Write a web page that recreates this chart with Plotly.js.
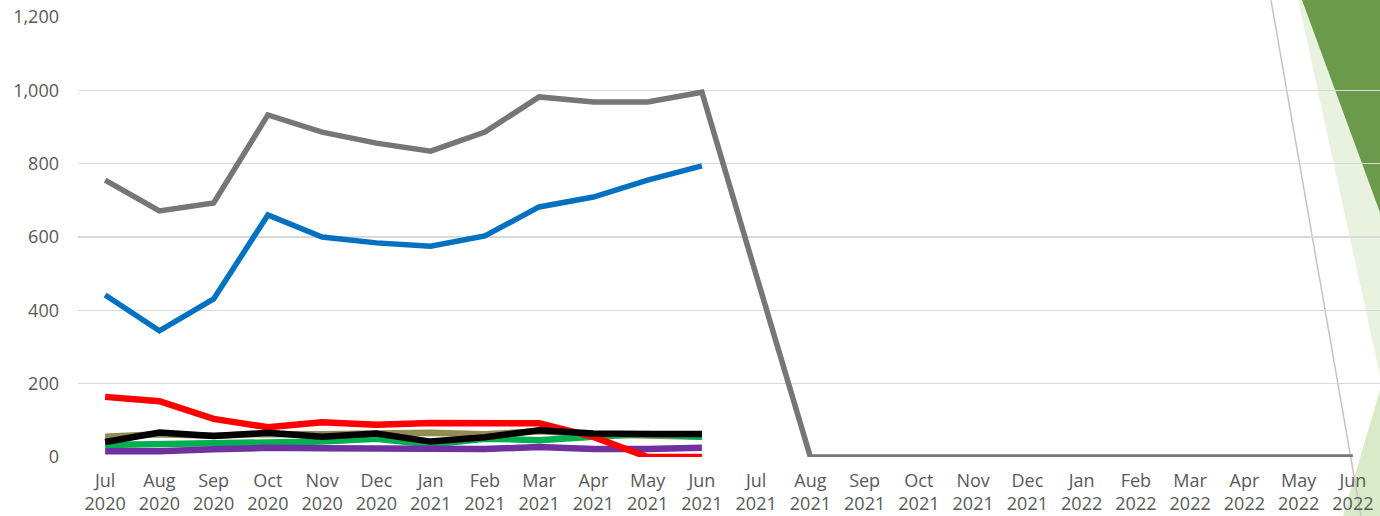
<!DOCTYPE html>
<html>
<head>
<meta charset="utf-8">
<script src="https://cdn.plot.ly/plotly-3.0.1.min.js"></script>
<style>
  html, body { margin: 0; padding: 0; background: #ffffff; }
  #chart { width: 1380px; height: 516px; }
</style>
</head>
<body>
<div id="chart"></div>
<script>
// month categories, Jul 2020 .. Jun 2022
const months = [
    'Jul<br>2020', 'Aug<br>2020', 'Sep<br>2020', 'Oct<br>2020', 'Nov<br>2020', 'Dec<br>2020',
    'Jan<br>2021', 'Feb<br>2021', 'Mar<br>2021', 'Apr<br>2021', 'May<br>2021', 'Jun<br>2021',
    'Jul<br>2021', 'Aug<br>2021', 'Sep<br>2021', 'Oct<br>2021', 'Nov<br>2021', 'Dec<br>2021',
    'Jan<br>2022', 'Feb<br>2022', 'Mar<br>2022', 'Apr<br>2022', 'May<br>2022', 'Jun<br>2022'
];

const _ = null;
const grayVals   = [755, 671, 693, 933, 886, 856, 834, 886, 982, 968, 968, 995, 497, 0, 0, 0, 0, 0, 0, 0, 0, 0, 0, 0];
const blueVals   = [442, 344, 431, 660, 600, 584, 575, 603, 682, 709, 755, 794, _, _, _, _, _, _, _, _, _, _, _, _];
const tanVals    = [55, 62, 58, 63, 62, 64, 66, 62, 70, 62, 60, 55, _, _, _, _, _, _, _, _, _, _, _, _];
const greenVals  = [33, 35, 37, 38, 42, 50, 34, 50, 46, 55, 63, 55, _, _, _, _, _, _, _, _, _, _, _, _];
const purpleVals = [16, 16, 21, 25, 24, 22, 23, 22, 27, 22, 22, 25, _, _, _, _, _, _, _, _, _, _, _, _];
const redVals    = [164, 152, 104, 81, 95, 88, 93, 92, 92, 55, 0, 0, _, _, _, _, _, _, _, _, _, _, _, _];
const blackVals  = [41, 67, 57, 66, 55, 64, 42, 54, 73, 64, 63, 63, _, _, _, _, _, _, _, _, _, _, _, _];

const yTicks = [0, 200, 400, 600, 800, 1000, 1200];

function line(y, color, width) {
    return {
        x: months,
        y: y,
        type: 'scatter',
        mode: 'lines',
        connectgaps: false,
        line: { color: color, width: width },
        hoverinfo: 'skip',
        showlegend: false
    };
}

const traces = [
    line(grayVals, '#767676', 5.5),
    line(blueVals, '#0070c0', 5.5),
    line(tanVals, '#948a54', 6.5),
    line(greenVals, '#00b050', 6.5),
    line(purpleVals, '#7030a0', 6.5),
    line(redVals, '#ff0000', 6.5),
    line(blackVals, '#000000', 6.5)
];

// plot area is 78..1380 px wide, 17..457 px tall; convert px -> paper
const px = v => (v - 78) / 1302;
const py = v => (457 - v) / 440;

// slide decoration at the right edge, behind the chart
const shapes = [
    { type: 'path', xref: 'paper', yref: 'paper', layer: 'below', line: { width: 0 }, fillcolor: '#e9f2df',
      path: `M ${px(1298)} ${py(0)} L ${px(1382)} ${py(0)} L ${px(1382)} ${py(385)} Z` },
    { type: 'path', xref: 'paper', yref: 'paper', layer: 'below', line: { width: 0 }, fillcolor: '#6a9a4a',
      path: `M ${px(1302)} ${py(0)} L ${px(1382)} ${py(0)} L ${px(1382)} ${py(218)} Z` },
    { type: 'path', xref: 'paper', yref: 'paper', layer: 'below', line: { width: 0 }, fillcolor: '#d9eac8',
      path: `M ${px(1382)} ${py(383)} L ${px(1382)} ${py(516)} L ${px(1343)} ${py(516)} Z` },
    { type: 'line', xref: 'paper', yref: 'paper', layer: 'below', line: { color: '#c4c4c4', width: 1.5 },
      x0: px(1271), y0: py(0), x1: px(1361), y1: py(516) }
];

const tickFont = { family: '"Open Sans", "DejaVu Sans", sans-serif', size: 18, color: '#595959' };

const layout = {
    width: 1380,
    height: 516,
    margin: { t: 17, r: 0, b: 59, l: 78 },
    plot_bgcolor: 'rgba(0,0,0,0)',
    paper_bgcolor: '#ffffff',
    showlegend: false,
    shapes: shapes,
    xaxis: {
        type: 'category',
        range: [-0.5, 23.5],
        showgrid: false,
        zeroline: false,
        showline: false,
        ticks: '',
        tickfont: tickFont,
        ticklabelstandoff: 11,
        fixedrange: true
    },
    yaxis: {
        range: [0, 1200],
        tickvals: yTicks,
        tickformat: ',d',
        showgrid: true,
        gridcolor: '#d9d9d9',
        gridwidth: 1.5,
        zeroline: false,
        showline: false,
        ticks: '',
        tickfont: tickFont,
        ticklabelstandoff: 18,
        fixedrange: true
    }
};

Plotly.newPlot('chart', traces, layout, { displayModeBar: false, staticPlot: true });
</script>
</body>
</html>
